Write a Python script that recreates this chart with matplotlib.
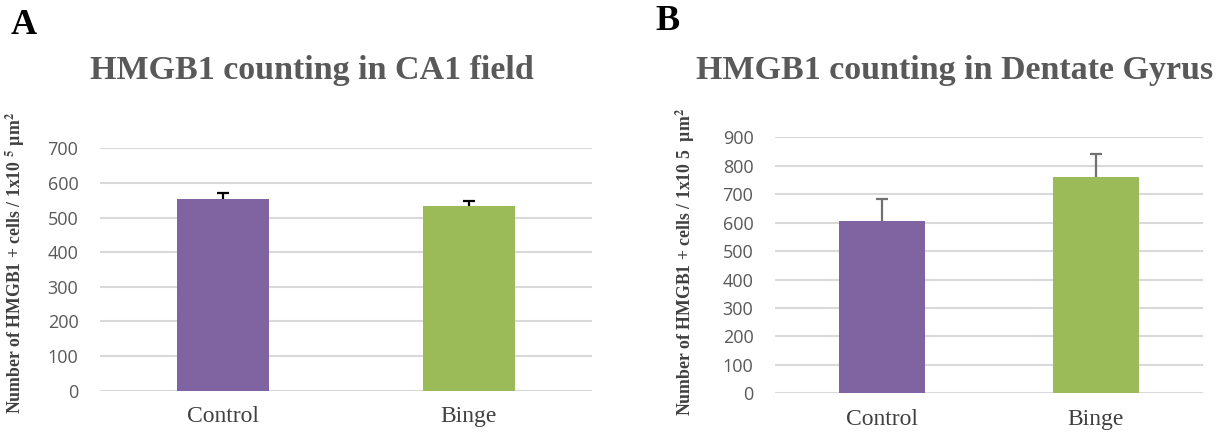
import matplotlib
matplotlib.use("Agg")
import matplotlib.pyplot as plt

plt.rcParams["mathtext.fontset"] = "stix"

groups = ["Control", "Binge"]
ca1_means = [555, 533]
ca1_err = [17, 15]
dg_means = [604, 759]
dg_err = [78, 82]

bar_colors = ["#8064A2", "#9BBB59"]

fig = plt.figure(figsize=(12.26, 4.34), dpi=100)
W, H = 1226, 434


def make_ax(x0, x1, y_top, y_bottom):
    return fig.add_axes([x0 / W, 1 - y_bottom / H, (x1 - x0) / W, (y_bottom - y_top) / H])


def style(ax, means, errs, ymax, width, ecolor, ylabel):
    x = range(len(groups))
    ax.bar(x, means, width=width, color=bar_colors, zorder=2)
    eb = ax.errorbar(x, means, yerr=[[0] * len(errs), errs], fmt="none",
                     ecolor=ecolor, elinewidth=1.6, capsize=4.5, capthick=1.6, zorder=3)
    eb[1][0].set_visible(False)  # only the upper cap
    ax.set_xlim(-0.5, len(groups) - 0.5)
    ax.set_ylim(0, ymax)
    ax.set_yticks(range(0, ymax + 1, 100))
    ax.grid(axis="y", color="#D9D9D9", linewidth=1.5, zorder=0)
    for s in ax.spines.values():
        s.set_visible(False)
    ax.tick_params(axis="y", length=0, pad=15.5, labelsize=13, labelcolor="#595959")
    ax.tick_params(axis="x", length=0, pad=11)
    ax.set_xticks(list(x))
    ax.set_xticklabels(groups, fontsize=17, family="Liberation Serif", color="#404040")
    for lab in ax.get_yticklabels():
        lab.set_family(["Open Sans", "DejaVu Sans"])
    ax.set_ylabel(ylabel, fontsize=12.8, fontweight="bold", family="Liberation Serif",
                  color="#404040")


ax1 = make_ax(100, 592, 148.3, 390.7)
style(ax1, ca1_means, ca1_err, 700, 0.37, "black",
      "Number of HMGB1 + cells / 1x10 $^{\\mathbf{5}}$ µm$^{\\mathbf{2}}$")
ax1.yaxis.set_label_coords(-0.148, 0.527)

ax2 = make_ax(775, 1203, 137.3, 393.3)
style(ax2, dg_means, dg_err, 900, 0.40, "#707070",
      "Number of HMGB1 + cells / 1x10 5  µm$^{\\mathbf{2}}$")
ax2.yaxis.set_label_coords(-0.182, 0.513)

fig.text(312 / W, 1 - 70 / H, "HMGB1 counting in CA1 field", fontsize=24.5,
         fontweight="bold", family="Liberation Serif", color="#595959",
         ha="center", va="center")
fig.text(955 / W, 1 - 70 / H, "HMGB1 counting in Dentate Gyrus", fontsize=24.5,
         fontweight="bold", family="Liberation Serif", color="#595959",
         ha="center", va="center")

fig.text(11 / W, 1 - 25 / H, "A", fontsize=26, fontweight="bold",
         family="Liberation Serif", va="center", ha="left")
fig.text(655 / W, 1 - 21 / H, "B", fontsize=26, fontweight="bold",
         family="Liberation Serif", va="center", ha="left")

fig.savefig("out.png", dpi=100)
